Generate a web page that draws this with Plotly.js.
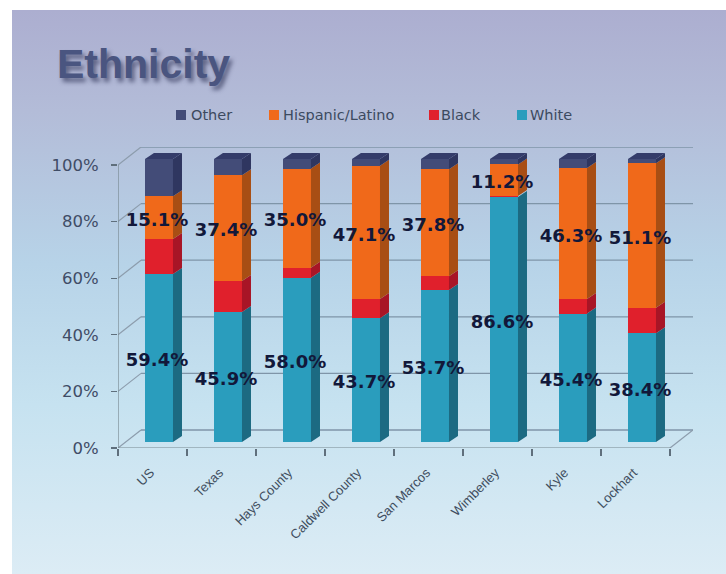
<!DOCTYPE html>
<html>
<head>
<meta charset="utf-8">
<script src="https://cdn.plot.ly/plotly-3.0.1.min.js"></script>
<style>
  html, body { margin: 0; padding: 0; background: #fff; overflow: hidden; }
  #panel {
    position: absolute; left: 12px; top: 10px; width: 714px; height: 564px;
    background: linear-gradient(to bottom, #acaed0 0%, #b3bcd8 18%, #b7d3e8 45%, #c6e2f0 70%, #dcecf5 100%);
  }
  #chart { position: absolute; left: 0; top: 0; width: 726px; height: 574px; }
</style>
</head>
<body>
<div id="panel"></div>
<div id="chart"></div>
<script>
// Ethnic make-up of each place, in percent of population
const places = ['US', 'Texas', 'Hays County', 'Caldwell County', 'San Marcos', 'Wimberley', 'Kyle', 'Lockhart'];
const white    = [59.4, 45.9, 58.0, 43.7, 53.7, 86.6, 45.4, 38.4];
const black    = [12.3, 11.0, 3.6, 6.8, 4.9, 0.3, 5.1, 9.0];
const hispanic = [15.1, 37.4, 35.0, 47.1, 37.8, 11.2, 46.3, 51.1];
const other    = [13.2, 5.7, 3.4, 2.4, 3.6, 1.9, 3.2, 1.5];

const yTicks = [0, 20, 40, 60, 80, 100];
const yTickText = ['0%', '20%', '40%', '60%', '80%', '100%'];

const series = [
  { name: 'White',           values: white,    front: '#2a9dbd', side: '#1c6a82', keyX: 517, keyTextX: 530 },
  { name: 'Black',           values: black,    front: '#e0202c', side: '#a81526', keyX: 429, keyTextX: 441 },
  { name: 'Hispanic/Latino', values: hispanic, front: '#f0691a', side: '#a84e14', keyX: 269, keyTextX: 283 },
  { name: 'Other',           values: other,    front: '#434c78', side: '#2f3660', keyX: 176, keyTextX: 191 }
];

// Plot box: one category slot is 69px, 1% is 2.83px
const plot = { left: 118, right: 693, top: 147, bottom: 448 };
const slot = 69, unit = 2.83;
const xMax = (plot.right - plot.left) / slot;
const yMax = (plot.bottom - plot.top) / unit;

// Page pixels to paper fractions of the plot box
const paperX = px => (px - plot.left) / (plot.right - plot.left);
const paperY = py => (plot.bottom - py) / (plot.bottom - plot.top);

// Oblique depth of the back wall and of the bars, in data units
const wallDx = xMax - places.length, wallDy = yMax - 100;
const barDx = 9 / slot, barDy = 6 / unit;
const barWidth = 28 / slot, barCentreOffset = 0.594;
const floorLift = 6 / unit;     // bars stand slightly back on the floor

const centres = places.map((_, i) => i + barCentreOffset);

// Cumulative lower edge of each stack segment
const running = places.map(() => 0);
series.forEach(s => {
  s.lower = running.slice();
  s.values.forEach((v, i) => { running[i] += v; });
});

const traces = [];

// Wall, floor and axis lines, on the bottom subplot
const gridX = [], gridY = [];
yTicks.forEach(t => { gridX.push(wallDx, places.length + wallDx, null); gridY.push(t + wallDy, t + wallDy, null); });
traces.push({ x: gridX, y: gridY, mode: 'lines', line: { color: '#7f95a8', width: 1.3 }, hoverinfo: 'skip', showlegend: false });

const wallX = [], wallY = [];
yTicks.forEach(t => { wallX.push(0, wallDx, null); wallY.push(t, t + wallDy, null); });
wallX.push(places.length, places.length + wallDx); wallY.push(0, wallDy);
traces.push({ x: wallX, y: wallY, mode: 'lines', line: { color: '#8c9cac', width: 1.2 }, hoverinfo: 'skip', showlegend: false });

traces.push({ x: [0, 0, places.length], y: [100, 0, 0], mode: 'lines', line: { color: '#77878f', width: 1.2 }, hoverinfo: 'skip', showlegend: false });

// Front faces of the stacked bars
series.forEach(s => {
  traces.push({
    type: 'bar', name: s.name, x: centres, y: s.values, width: barWidth,
    xaxis: 'x2', yaxis: 'y2', marker: { color: s.front, line: { width: 0 } },
    hovertemplate: s.name + ': %{y:.1f}%<extra></extra>', showlegend: false
  });
});

// Side faces
series.forEach(s => {
  const xs = [], ys = [];
  s.values.forEach((v, i) => {
    const r = centres[i] + barWidth / 2, a = s.lower[i], b = a + v;
    xs.push(r, r + barDx, r + barDx, r, r, null);
    ys.push(a, a + barDy, b + barDy, b, a, null);
  });
  traces.push({ x: xs, y: ys, xaxis: 'x2', yaxis: 'y2', mode: 'lines', fill: 'toself', fillcolor: s.side, line: { width: 0 }, hoverinfo: 'skip', showlegend: false });
});

// Top faces
const topX = [], topY = [];
places.forEach((_, i) => {
  const l = centres[i] - barWidth / 2, r = centres[i] + barWidth / 2, t = running[i];
  topX.push(l, r, r + barDx, l + barDx, l, null);
  topY.push(t, t, t + barDy, t + barDy, t, null);
});
traces.push({ x: topX, y: topY, xaxis: 'x2', yaxis: 'y2', mode: 'lines', fill: 'toself', fillcolor: '#343c6a', line: { width: 0 }, hoverinfo: 'skip', showlegend: false });

// Value labels for the two largest groups
[series[0], series[2]].forEach(s => {
  traces.push({
    x: centres.map(c => c - 2 / slot),
    y: s.values.map((v, i) => s.lower[i] + v / 2 - 1.3),
    text: s.values.map(v => v.toFixed(1) + '%'),
    xaxis: 'x2', yaxis: 'y2', mode: 'text', textposition: 'middle center', cliponaxis: false,
    textfont: { family: 'DejaVu Sans', size: 18, color: '#12183a', weight: 700 },
    hoverinfo: 'skip', showlegend: false
  });
});

// Key above the plot: tight swatch-to-text gaps, uneven spacing
const keyShapes = series.map(s => ({
  type: 'rect', xref: 'paper', yref: 'paper', layer: 'above',
  x0: paperX(s.keyX), x1: paperX(s.keyX + 10), y0: paperY(120), y1: paperY(110),
  fillcolor: s.front, line: { width: 0 }
}));
const keyLabels = series.map(s => ({
  text: s.name, xref: 'paper', yref: 'paper', x: paperX(s.keyTextX), y: paperY(115),
  xanchor: 'left', yanchor: 'middle', showarrow: false, xshift: -2,
  font: { family: 'DejaVu Sans', size: 14.5, color: '#3c4a60' }
}));

const layout = {
  width: 726, height: 574, autosize: false,
  paper_bgcolor: 'rgba(0,0,0,0)', plot_bgcolor: 'rgba(0,0,0,0)',
  margin: { l: plot.left, r: 726 - plot.right, t: plot.top, b: 574 - plot.bottom, pad: 0 },
  barmode: 'stack',
  title: {
    text: 'Ethnicity', x: 57 / 726, xanchor: 'left', y: 1 - 78 / 574, yanchor: 'bottom', yref: 'container',
    font: { family: 'Liberation Sans', size: 41, weight: 700, color: '#4a5580', shadow: '3px 4px 4px rgba(50,55,90,0.65)' }
  },
  showlegend: false,
  shapes: keyShapes,
  annotations: keyLabels,
  xaxis: {
    range: [0, xMax], showgrid: false, zeroline: false, showline: false,
    tickmode: 'array', tickvals: places.map((_, i) => i + 0.47), ticktext: places,
    ticks: 'outside', ticklen: 0, tickangle: -45, ticklabelstandoff: 11,
    tickfont: { family: 'Liberation Sans', size: 13, color: '#3f4e60' },
    minor: { tickmode: 'array', tickvals: places.map((_, i) => i).concat(places.length), ticks: 'outside', ticklen: 7, tickwidth: 1.2, tickcolor: '#5f6f7c' }
  },
  yaxis: {
    range: [0, yMax], showgrid: false, zeroline: false, showline: false,
    tickmode: 'array', tickvals: yTicks, ticktext: yTickText,
    ticks: 'outside', ticklen: 6, tickwidth: 1.2, tickcolor: '#5f6f7c', ticklabelstandoff: 9,
    tickfont: { family: 'DejaVu Sans', size: 16.5, color: '#3f4c66' }
  },
  xaxis2: { overlaying: 'x', range: [0, xMax], visible: false, fixedrange: true },
  yaxis2: { overlaying: 'y', range: [-floorLift, yMax - floorLift], visible: false, fixedrange: true }
};

Plotly.newPlot('chart', traces, layout, { displayModeBar: false, staticPlot: true });
</script>
</body>
</html>
